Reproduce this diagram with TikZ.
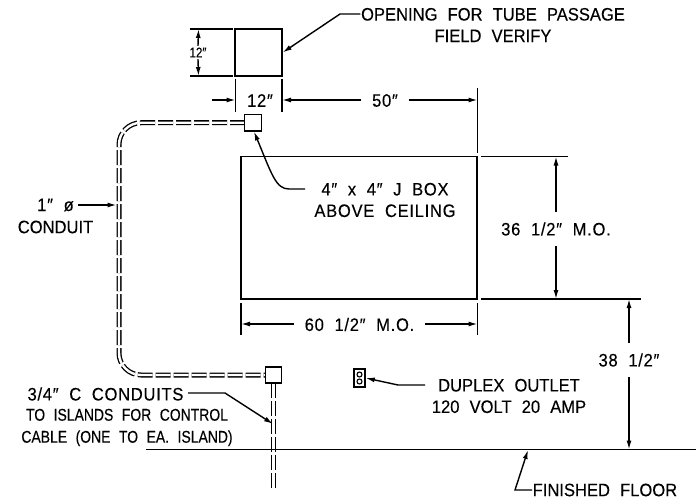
\documentclass[tikz,border=0pt]{standalone}
\usepackage{fontspec}
\setmainfont{Liberation Sans}
\newfontfamily\cadfont[FakeStretch=.92,WordSpace=2.2,FakeBold=.25]{Liberation Sans}
\newfontfamily\cadspaced[FakeStretch=.92,WordSpace=2.0,LetterSpace=4,FakeBold=.25]{Liberation Sans}
\newfontfamily\cadnarrow[FakeStretch=.82,WordSpace=2.2,FakeBold=.25]{Liberation Sans}
\usetikzlibrary{arrows.meta}
\tikzstyle{dimArrow} = [line width=1.4pt, -{Latex[length=9pt,width=5pt]}]
\tikzstyle{conduit} = [line width=1.3pt, double distance=2.4pt, double=white, draw=black, dash pattern=on 15pt off 3pt]
\tikzstyle{extLine} = [line width=1.4pt]
\tikzstyle{label} = [inner sep=10pt, align=center, font=\cadfont\fontsize{18}{21.5}\selectfont]
\tikzstyle{spaced} = [inner sep=10pt, align=center, font=\cadspaced\fontsize{18}{21.5}\selectfont]
\tikzstyle{noteSmall} = [inner sep=0pt, align=center, font=\cadnarrow\fontsize{17}{22}\selectfont]

\begin{document}
\begin{tikzpicture}[
  x=1pt, y=-1pt,
  line width=1.4pt,
  ]
  \useasboundingbox (0,0) rectangle (696,500);
  % boxes
  \node[draw,rectangle,inner sep=0pt,minimum width=47pt,minimum height=47pt] (opening) at (258.5,52.5) {};
  \node[draw,rectangle,inner sep=0pt,minimum width=236pt,minimum height=142.5pt] (mo) at (359,227.75) {};
  % conduits
  \coordinate (jboxW) at (245,122.75);
  \coordinate (lowboxW) at (265.5,375);
  \coordinate (lowboxS) at (273.5,383);
  \coordinate (bendTop) at (119,122.75);
  \coordinate (bendLow) at (119,375);
  \coordinate (conduitEnd) at (273.5,490);
  \draw[conduit,rounded corners=22pt] (jboxW) -- (bendTop) -- (bendLow) -- (lowboxW);
  \draw[conduit] (lowboxS) -- (conduitEnd);
  \node[draw,rectangle,fill=white,inner sep=0pt,minimum width=16.5pt,minimum height=16.5pt] (jbox) at (253,122.75) {};
  \node[draw,rectangle,fill=white,inner sep=0pt,minimum width=16pt,minimum height=16pt] (lowbox) at (273.5,375) {};
  \node[draw,rectangle,inner sep=0pt,minimum width=11pt,minimum height=18pt] (outlet) at (359.5,378) {};
  \node[draw,circle,inner sep=0pt,minimum size=5pt,line width=1.1pt] (plugA) at (359.5,374.5) {};
  \node[draw,circle,inner sep=0pt,minimum size=5pt,line width=1.1pt] (plugB) at (359.5,381.5) {};
  % floor
  \coordinate (floorL) at (146,449.5);
  \coordinate (floorR) at (696,449.5);
  \draw[extLine] (floorL) -- (floorR);
  % extension lines
  \coordinate (openTL) at (190,29);
  \coordinate (openTR) at (233,29);
  \coordinate (openBL) at (190,76);
  \coordinate (openBR) at (233,76);
  \draw[extLine] (openTL) -- (openTR);
  \draw[extLine] (openBL) -- (openBR);
  \coordinate (extAt) at (235.5,79);
  \coordinate (extAb) at (235.5,112);
  \coordinate (extBt) at (282,79);
  \coordinate (extBb) at (282,112);
  \draw[extLine] (extAt) -- (extAb);
  \draw[extLine] (extBt) -- (extBb);
  \coordinate (extCt) at (477.5,88);
  \coordinate (extCb) at (477.5,153);
  \draw[extLine] (extCt) -- (extCb);
  \coordinate (extDt) at (481,156.5);
  \coordinate (extDb) at (568,156.5);
  \draw[extLine] (extDt) -- (extDb);
  \coordinate (extEt) at (481,299);
  \coordinate (extEb) at (641,299);
  \draw[extLine] (extEt) -- (extEb);
  \coordinate (extFt) at (241,303);
  \coordinate (extFb) at (241,335);
  \draw[extLine] (extFt) -- (extFb);
  \coordinate (extGt) at (477.5,303);
  \coordinate (extGb) at (477.5,335);
  \draw[extLine] (extGt) -- (extGb);
  % dimensions
  \node[inner sep=1pt,font=\cadnarrow\fontsize{14}{14}\selectfont] (dimSide) at (198,52.5) {12″};
  \coordinate (sideTop) at (198.5,29);
  \coordinate (sideLow) at (198.5,76);
  \draw[dimArrow] (dimSide.north) -- (sideTop);
  \draw[dimArrow] (dimSide.south) -- (sideLow);
  \node[spaced] (dimTop) at (260,100.5) {12″};
  \coordinate (topFree) at (212,100);
  \coordinate (topTip) at (235.5,100);
  \draw[dimArrow] (topFree) -- (topTip);
  \node[spaced] (dimFifty) at (385,100.5) {50″};
  \coordinate (fiftyL) at (282,100);
  \coordinate (fiftyR) at (477.5,100);
  \draw[dimArrow] (dimFifty.west |- fiftyL) -- (fiftyL);
  \draw[dimArrow] (dimFifty.east |- fiftyR) -- (fiftyR);
  \node[spaced] (dimWide) at (359.5,324.5) {60 1/2″ M.O.};
  \coordinate (wideL) at (241,324);
  \coordinate (wideR) at (477.5,324);
  \draw[dimArrow] (dimWide.west |- wideL) -- (wideL);
  \draw[dimArrow] (dimWide.east |- wideR) -- (wideR);
  \node[spaced] (dimHigh) at (556,229) {36 1/2″ M.O.};
  \coordinate (highT) at (556,156.5);
  \coordinate (highB) at (556,299);
  \draw[dimArrow] (dimHigh.north) -- (highT);
  \draw[dimArrow] (dimHigh.south) -- (highB);
  \node[spaced] (dimFloor) at (629,360) {38 1/2″};
  \coordinate (floorT) at (629,299);
  \coordinate (floorB) at (629,449.5);
  \draw[dimArrow] (dimFloor.north) -- (floorT);
  \draw[dimArrow] (dimFloor.south) -- (floorB);
  % notes
  \node[label,inner sep=0pt] (noteOpen) at (493,25) {OPENING FOR TUBE PASSAGE\\FIELD VERIFY};
  \coordinate (openKink) at (340,14);
  \draw[dimArrow] (noteOpen.west |- openKink) -- (openKink) -- (opening.east);
  \node[spaced,inner sep=0pt] (noteJbox) at (385,200) {4″ x 4″ J BOX\\ABOVE CEILING};
  \coordinate (jboxStart) at (305,189);
  \coordinate (jboxTip) at (254,131.5);
  \draw[dimArrow] (jboxStart) -- (289,189) .. controls (276,189) and (272,175) .. (jboxTip);
  \node[spaced,inner sep=4pt] (noteOne) at (55.5,205) {1″ ø};
  \coordinate (conduitTip) at (116.5,205);
  \draw[dimArrow] (noteOne.east) -- (conduitTip);
  \node[label,inner sep=0pt] (noteConduit) at (55.5,227) {CONDUIT};
  \node[spaced,inner sep=4pt] (noteIslA) at (105.5,394) {3/4″ C CONDUITS};
  \node[noteSmall] (noteIsl) at (127,427.5) {TO ISLANDS FOR CONTROL\\CABLE (ONE TO EA. ISLAND)};
  \coordinate (islKink) at (225,393);
  \coordinate (islTip) at (273,424);
  \draw[dimArrow] (noteIslA.east |- islKink) -- (islKink) -- (islTip);
  \node[label,inner sep=0pt] (noteDuplex) at (509,396) {DUPLEX OUTLET\\120 VOLT 20 AMP};
  \coordinate (duplexStart) at (425,385);
  \coordinate (duplexKink) at (398,385);
  \draw[dimArrow] (duplexStart) -- (duplexKink) -- (outlet.east);
  \node[label,inner sep=0pt,anchor=west] (noteFloor) at (532,490) {FINISHED FLOOR};
  \coordinate (floorKink) at (515,490);
  \coordinate (floorTip) at (528,450);
  \draw[dimArrow] (noteFloor.west) -- (floorKink) -- (floorTip);
\end{tikzpicture}
\end{document}
